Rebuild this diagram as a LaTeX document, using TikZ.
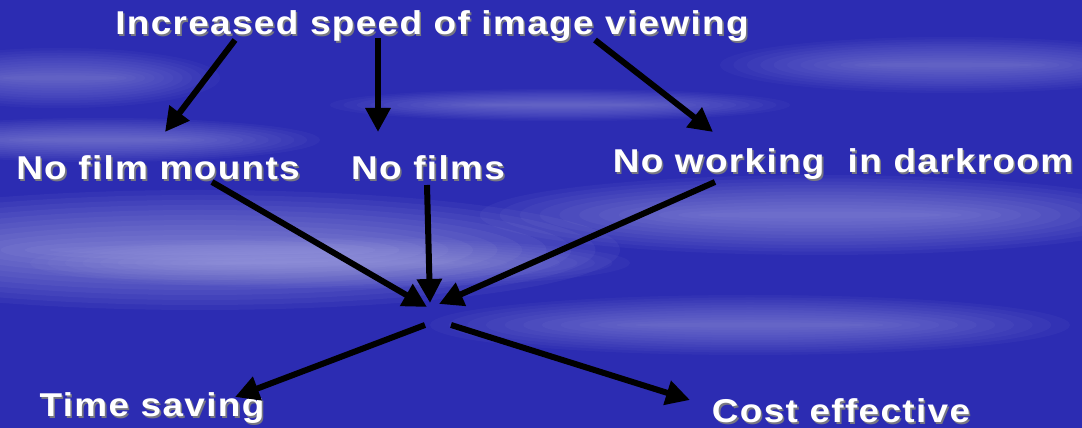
\documentclass[tikz,border=0pt]{standalone}
\usepackage{fontspec}
\setmainfont{Liberation Sans}[LetterSpace=4,FakeStretch=1.12]
\usetikzlibrary{arrows.meta}
\definecolor{bgblue}{RGB}{44,44,178}
\definecolor{cloud}{RGB}{195,195,240}
\definecolor{shadowc}{RGB}{120,120,130}
\newcommand\shtxt[1]{\rlap{\kern1.6pt\raisebox{-1.6pt}{\color{shadowc}#1}}#1}
\newcommand\bgstreak[5]{%
  \foreach \k in {1,...,12}{\fill[cloud,opacity=#5] (#1,#2) ellipse ({#3*(0.3+0.7*\k/12)} and {#4*\k/12});}}
\tikzset{
  lbl/.style={font=\bfseries\fontsize{33}{36}\selectfont, text=white, inner sep=0pt, anchor=base},
  arr/.style={line width=6pt, black, -{Triangle[length=24pt,width=24pt]}}
}
\begin{document}
\begin{tikzpicture}[x=1pt,y=1pt]
\fill[bgblue] (0,0) rectangle (1082,428);
\useasboundingbox (0,0) rectangle (1082,428);
\begin{scope}
\clip (0,0) rectangle (1082,428);
\bgstreak{100}{288}{220}{22}{0.045}
\bgstreak{200}{178}{420}{60}{0.06}
\bgstreak{330}{165}{300}{25}{0.045}
\bgstreak{820}{213}{340}{40}{0.05}
\bgstreak{750}{103}{320}{30}{0.045}
\bgstreak{950}{363}{230}{28}{0.04}
\bgstreak{560}{323}{230}{16}{0.04}
\bgstreak{60}{350}{160}{30}{0.04}
\end{scope}
% texts
\node[lbl] (top) at (432,393) {\shtxt{Increased speed of image viewing}};
\node[lbl] (fm) at (158,248) {\shtxt{No film mounts}};
\node[lbl] (nf) at (428,248) {\shtxt{No films}};
\node[lbl] (nw) at (843,255) {\shtxt{No working\ \ in darkroom}};
\node[lbl] (ts) at (152,11) {\shtxt{Time saving}};
\node[lbl] (ce) at (841,5) {\shtxt{Cost effective}};
% arrow ends
\coordinate (a1s) at (235,388); \coordinate (a1e) at (165,296);
\coordinate (a2s) at (378,390); \coordinate (a2e) at (378,296);
\coordinate (a3s) at (595,388); \coordinate (a3e) at (713,296);
\coordinate (a4s) at (212,246); \coordinate (a4e) at (427,121);
\coordinate (a5s) at (427,243); \coordinate (a5e) at (430,125);
\coordinate (a6s) at (715,246); \coordinate (a6e) at (439,124);
\coordinate (a7s) at (425,103); \coordinate (a7e) at (235,31);
\coordinate (a8s) at (451,103); \coordinate (a8e) at (690,28);
\draw[arr] (a1s) -- (a1e);
\draw[arr] (a2s) -- (a2e);
\draw[arr] (a3s) -- (a3e);
\draw[arr] (a4s) -- (a4e);
\draw[arr] (a5s) -- (a5e);
\draw[arr] (a6s) -- (a6e);
\draw[arr] (a7s) -- (a7e);
\draw[arr] (a8s) -- (a8e);
\end{tikzpicture}
\end{document}
